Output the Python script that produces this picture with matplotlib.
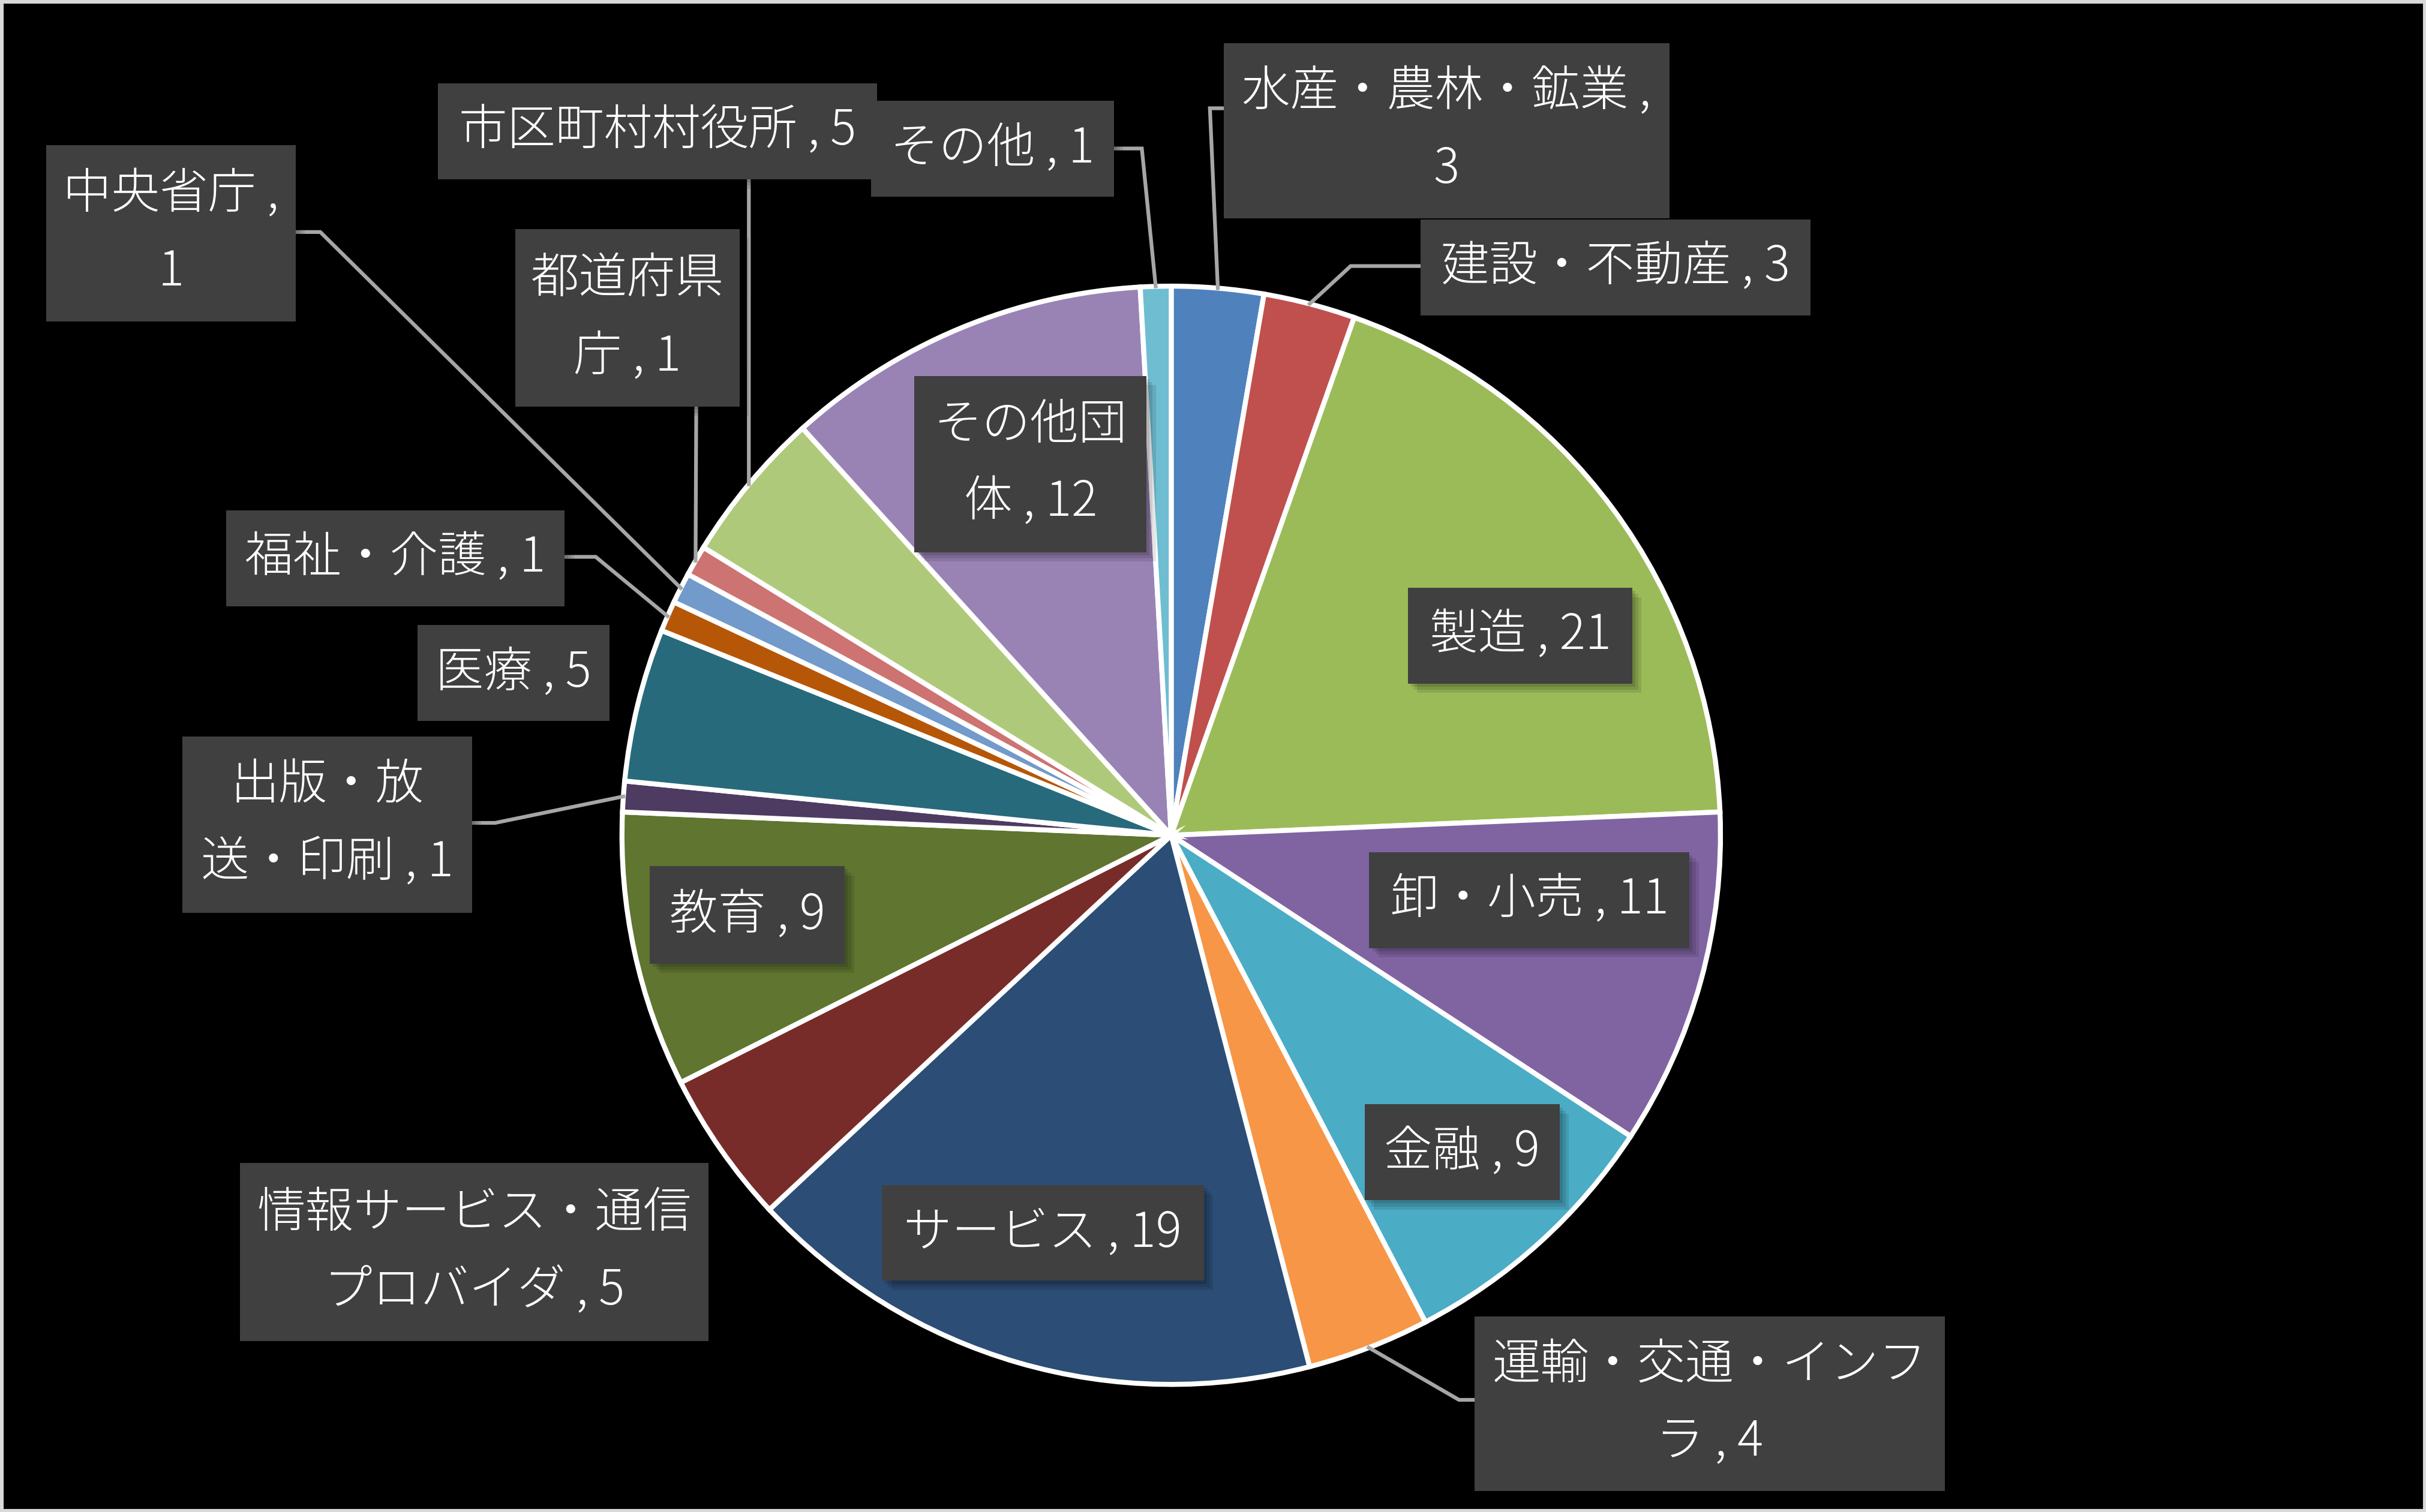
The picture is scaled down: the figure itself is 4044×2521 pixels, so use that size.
import numpy as np
import matplotlib
matplotlib.use("Agg")
import matplotlib.pyplot as plt
from matplotlib.patches import Rectangle

plt.rcParams['font.family'] = ['Noto Sans CJK JP', 'DejaVu Sans']

# datos (sentido horario desde arriba)
categories = ['水産・農林・鉱業', '建設・不動産', '製造', '卸・小売', '金融',
              '運輸・交通・インフラ', 'サービス', '情報サービス・通信プロバイダ', '教育',
              '出版・放送・印刷', '医療', '福祉・介護', '中央省庁', '都道府県庁',
              '市区町村村役所', 'その他団体', 'その他']
values = [3, 3, 21, 11, 9, 4, 19, 5, 9, 1, 5, 1, 1, 1, 5, 12, 1]
colors = ['#4F81BD', '#C0504D', '#9BBB59', '#8064A2', '#4BACC6', '#F79646',
          '#2C4D75', '#772C2A', '#5F7530', '#4D3B62', '#276A7C', '#B65708',
          '#729ACA', '#CD7371', '#AFC97A', '#9983B5', '#6FBDD1']

# layout (coordenadas de imagen 1568 x 977, y hacia abajo)
W, H = 1568, 977.5
CX, CY, R = 757, 540, 355
# corte de línea en la etiqueta (nº de caracteres en la 1ª línea, None = una línea)
line_break = [10, None, None, None, None, 9, None, 9, None, 4, None, None, 6, 4, None, 4, None]
# cajas: x0, y0, x1, y1
boxes = [(791, 28, 1079, 141), (918, 142, 1170, 204), (910, 380, 1055, 442),
         (885, 551, 1092, 613), (882, 714, 1008, 776), (953, 851, 1257, 964),
         (570, 766, 778, 828), (155, 752, 458, 867), (420, 560, 546, 623),
         (118, 476, 305, 590), (270, 404, 394, 466), (146, 330, 365, 392),
         (30, 94, 191, 208), (333, 148, 478, 263), (283, 54, 567, 116),
         (591, 243, 741, 357), (563, 65, 720, 127)]
# líneas guía: (codo, punto en la caja) o None
leaders = [((782, 70), (791, 70)), ((873, 172), (918, 172)), None, None, None,
           ((943, 905), (953, 905)), None, None, None,
           ((320, 532), (305, 532)), None, ((385, 360), (365, 360)),
           ((207, 150), (191, 150)), ((450, 263), (450, 263)), ((484, 116), (484, 116)),
           None, ((738, 96), (720, 96))]

fig = plt.figure(figsize=(40.44, 25.21), dpi=100, facecolor='black')
ax = fig.add_axes([0, 0, 1, 1])
ax.set_facecolor('black')

total = sum(values)
ax.pie(values, colors=colors, startangle=90, counterclock=False,
       center=(CX, H - CY), radius=R,
       wedgeprops=dict(edgecolor='white', linewidth=6))
ax.set_xlim(0, W)
ax.set_ylim(0, H)
ax.set_aspect('equal')
ax.axis('off')

cum = np.cumsum(values) - np.array(values) / 2
for i, (name, v) in enumerate(zip(categories, values)):
    full = f'{name} , {v}'
    if line_break[i] is not None:
        k = line_break[i]
        txt = full[:k] + '\n' + full[k:].lstrip()
    else:
        txt = full
    x0, y0, x1, y1 = boxes[i]

    if leaders[i] is not None:
        ang = np.deg2rad(90 - 360 * cum[i] / total)
        ax_, ay_ = CX + R * np.cos(ang), CY - R * np.sin(ang)
        (ex, ey), (bx, by) = leaders[i]
        ax.plot([ax_, ex, bx], [H - ay_, H - ey, H - by], color='#a6a6a6',
                lw=4.5, solid_joinstyle='miter', zorder=3)

    # sombra suave
    for k, a in enumerate([0.10, 0.10, 0.12]):
        off = 6 - k * 2
        ax.add_patch(Rectangle((x0 + off, H - y1 - off), x1 - x0, y1 - y0,
                               facecolor='black', edgecolor='none', alpha=a, zorder=4))
    ax.add_patch(Rectangle((x0, H - y1), x1 - x0, y1 - y0, facecolor='#404040',
                           edgecolor='none', zorder=5))
    ax.text((x0 + x1) / 2, H - (y0 + y1) / 2, txt, color='white', fontsize=58,
            fontweight='light', ha='center', va='center', linespacing=1.72, zorder=6)

# marco exterior
fig.patches.append(Rectangle((0, 0), 1, 1, transform=fig.transFigure, fill=False,
                             edgecolor='#d9d9d9', linewidth=8))

fig.savefig('out.png', dpi=100, facecolor='black')
